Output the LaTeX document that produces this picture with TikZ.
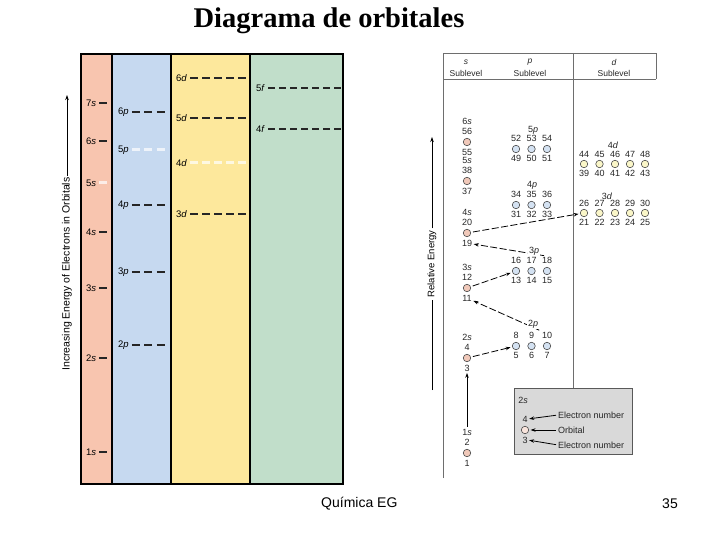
\documentclass[tikz,border=0pt]{standalone}
\usepackage{fontspec}
\setmainfont{Liberation Sans}
\newfontfamily\titlefont{Liberation Serif}
\usetikzlibrary{arrows.meta}
\definecolor{salmon}{RGB}{248,197,175}
\definecolor{paleblue}{RGB}{198,217,240}
\definecolor{paleyellow}{RGB}{253,232,156}
\definecolor{palegreen}{RGB}{193,222,202}
\definecolor{sorbc}{RGB}{240,200,185}
\definecolor{porbc}{RGB}{212,226,242}
\definecolor{dorbc}{RGB}{250,246,200}
\definecolor{framec}{RGB}{110,110,110}
\newcommand\lvlmark[5]{%
  \node[lvltext] (#1) at (#2,#3) {#4};
  \draw[#5] ([xshift=3pt]#1.east) -- ++(\dashlen,0);}
\begin{document}
\begin{tikzpicture}[x=1pt,y=-1pt,
  lvltext/.style={anchor=west, inner sep=0pt, font=\fontsize{9.5}{10}\selectfont},
  lvs/.style={line width=1.3pt, black!85},
  faded/.style={white, line width=3pt, opacity=.7},
  pd/.style={dash pattern=on 8pt off 4.5pt},
  dd/.style={dash pattern=on 7.5pt off 4.5pt},
  fd/.style={dash pattern=on 7pt off 4pt},
  orb/.style={circle, draw=black!70, line width=.6pt, minimum size=7.5pt, inner sep=0pt},
  num/.style={font=\fontsize{9}{10}\selectfont, inner sep=0pt, text=black!85},
  hdr/.style={font=\fontsize{8.5}{10}\selectfont, inner sep=0pt, text=black!85},
  flow/.style={line width=.8pt, dash pattern=on 7pt off 2.5pt, -{Stealth[length=5pt,width=3.5pt]}, shorten <=2pt, shorten >=1.5pt},
  arr/.style={line width=.8pt, -{Stealth[length=5pt,width=3.5pt]}, shorten <=2pt, shorten >=1.5pt},
  axisarr/.style={line width=.8pt, -{Stealth[length=5pt,width=3.5pt]}},
  framel/.style={draw=framec, line width=.9pt}
]
\useasboundingbox (0,0) rectangle (720,540);

% title and footer
\node[font=\titlefont\bfseries\fontsize{28.5}{30}\selectfont] (title) at (329,21) {Diagrama de orbitales};
\node[font=\fontsize{14}{16}\selectfont, anchor=west, inner sep=0pt] (foot) at (321,504) {Química EG};
\node[font=\fontsize{14}{16}\selectfont, anchor=east, inner sep=0pt] (page) at (678,504) {35};

% ---------------- left panel ----------------
\fill[salmon] (81,54) rectangle (112,484);
\fill[paleblue] (112,54) rectangle (171,484);
\fill[paleyellow] (171,54) rectangle (250,484);
\fill[palegreen] (250,54) rectangle (343,484);
\draw[line width=1.2pt] (81,54) rectangle (343,484);
\draw[line width=1.2pt] (112,54) -- (112,484) (171,54) -- (171,484) (250,54) -- (250,484);

% s levels
\def\dashlen{8}
\lvlmark{l7s}{86}{103}{7\textit{s}}{lvs}
\lvlmark{l6s}{86}{141}{6\textit{s}}{lvs}
\lvlmark{l5s}{86}{183}{5\textit{s}}{lvs,faded}
\lvlmark{l4s}{86}{232}{4\textit{s}}{lvs}
\lvlmark{l3s}{86}{288}{3\textit{s}}{lvs}
\lvlmark{l2s}{86}{358}{2\textit{s}}{lvs}
\lvlmark{l1s}{86}{452}{1\textit{s}}{lvs}
% p levels
\def\dashlen{33}
\lvlmark{l6p}{118}{112}{6\textit{p}}{lvs,pd}
\lvlmark{l5p}{118}{150}{5\textit{p}}{lvs,pd,faded}
\lvlmark{l4p}{118}{205}{4\textit{p}}{lvs,pd}
\lvlmark{l3p}{118}{272}{3\textit{p}}{lvs,pd}
\lvlmark{l2p}{118}{345}{2\textit{p}}{lvs,pd}
% d levels
\def\dashlen{55.5}
\lvlmark{l6d}{176}{78}{6\textit{d}}{lvs,dd}
\lvlmark{l5d}{176}{118}{5\textit{d}}{lvs,dd}
\lvlmark{l4d}{176}{163}{4\textit{d}}{lvs,dd,faded}
\lvlmark{l3d}{176}{214}{3\textit{d}}{lvs,dd}
% f levels
\def\dashlen{73}
\lvlmark{l5f}{256}{88}{5\textit{f}}{lvs,fd}
\lvlmark{l4f}{256}{129}{4\textit{f}}{lvs,fd}

% left axis
\node[rotate=90, font=\fontsize{10.5}{11}\selectfont, inner sep=1pt] (yl) at (67,274) {Increasing Energy of Electrons in Orbitals};
\coordinate (ylt) at (67,95);
\draw[axisarr] (yl.east) -- (ylt);

% ---------------- right panel ----------------
\draw[framel] (443,478) -- (443,53) -- (656,53) -- (656,79);
\draw[framel] (443,79) -- (656,79);
\draw[framel] (573,53) -- (573,388);

\node[hdr] (hs) at (466,62) {\textit{s}};
\node[hdr] (hs2) at (466,73) {Sublevel};
\node[hdr] (hp) at (530,62) {\textit{p}};
\node[hdr] (hp2) at (530,73) {Sublevel};
\node[hdr] (hd) at (614,62) {\textit{d}};
\node[hdr] (hd2) at (614,73) {Sublevel};

% right axis
\node[rotate=90, font=\fontsize{9.5}{10}\selectfont, fill=white, inner sep=2pt] (yr) at (432,264) {Relative Energy};
\coordinate (yrt) at (432,137);
\coordinate (yrb) at (432,390);
\draw[axisarr] (yr.east) -- (yrt);
\draw[line width=.8pt] (yrb) -- (yr.west);

% s orbitals
\foreach \n/\yy/\t/\b in {1/453/2/1, 2/358/4/3, 3/288/12/11, 4/233/20/19, 5/181/38/37, 6/142/56/55} {
  \node[orb, fill=sorbc] (s\n) at (467,\yy) {};
  \node[num] (s\n-t) at (467,\yy-11) {\t};
  \node[num] (s\n-b) at (467,\yy+10) {\b};
  \node[num] (s\n-l) at (467,\yy-21) {\n\textit{s}};
}

% p orbitals
\foreach \n/\yy/\base in {2/346/4, 3/271/12, 4/205/30, 5/149/48} {
  \foreach \i/\xx in {1/516, 2/531.5, 3/547} {
    \pgfmathtruncatemacro\lo{\base+\i}
    \pgfmathtruncatemacro\hi{\base+3+\i}
    \node[orb, fill=porbc] (p\n-\i) at (\xx,\yy) {};
    \node[num] (p\n-\i-t) at (\xx,\yy-11) {\hi};
    \node[num] (p\n-\i-b) at (\xx,\yy+9) {\lo};
  }
}

% d orbitals
\foreach \n/\yy/\base in {3/213/20, 4/164/38} {
  \foreach \i/\xx in {1/584, 2/599.5, 3/615, 4/630, 5/645} {
    \pgfmathtruncatemacro\lo{\base+\i}
    \pgfmathtruncatemacro\hi{\base+5+\i}
    \node[orb, fill=dorbc] (d\n-\i) at (\xx,\yy) {};
    \node[num] (d\n-\i-t) at (\xx,\yy-10) {\hi};
    \node[num] (d\n-\i-b) at (\xx,\yy+9) {\lo};
  }
}

% filling-order arrows
\draw[arr] (s1-l) -- (s2-b);
\draw[flow] (s2) -- (p2-1);
\coordinate (p2s) at (541,331);
\draw[flow] (p2s) -- (s3-b);
\draw[flow] (s3) -- (p3-1);
\coordinate (p3s) at (546,256);
\draw[flow] (p3s) -- (s4-b);
\draw[flow] (s4) -- (d3-1);

% sublevel labels (on top of the arrows)
\node[num, fill=white, inner sep=.8pt] (p2-l) at (533,324) {2\textit{p}};
\node[num, fill=white, inner sep=.8pt] (p3-l) at (534,251) {3\textit{p}};
\node[num] (p4-l) at (532,185) {4\textit{p}};
\node[num] (p5-l) at (533,130) {5\textit{p}};
\node[num] (d3-l) at (607,196) {3\textit{d}};
\node[num] (d4-l) at (613,145) {4\textit{d}};

% legend
\node[draw=black!65, fill=gray!30, line width=.8pt, minimum width=118pt, minimum height=66pt, anchor=north west, inner sep=0pt] (leg) at (514,388) {};
\node[num] (lg-l) at (523,400) {2\textit{s}};
\node[num] (lg-t) at (525,419) {4};
\node[orb, fill=sorbc!50!white] (lg-o) at (525,430) {};
\node[num] (lg-b) at (525,440) {3};
\node[num, anchor=west] (lg-e1) at (558,415) {Electron number};
\node[num, anchor=west] (lg-or) at (558,430) {Orbital};
\node[num, anchor=west] (lg-e2) at (558,445) {Electron number};
\draw[arr] (lg-e1.west) -- (lg-t.east);
\draw[arr] (lg-or.west) -- (lg-o.east);
\draw[arr] (lg-e2.west) -- (lg-b.east);
\end{tikzpicture}
\end{document}
